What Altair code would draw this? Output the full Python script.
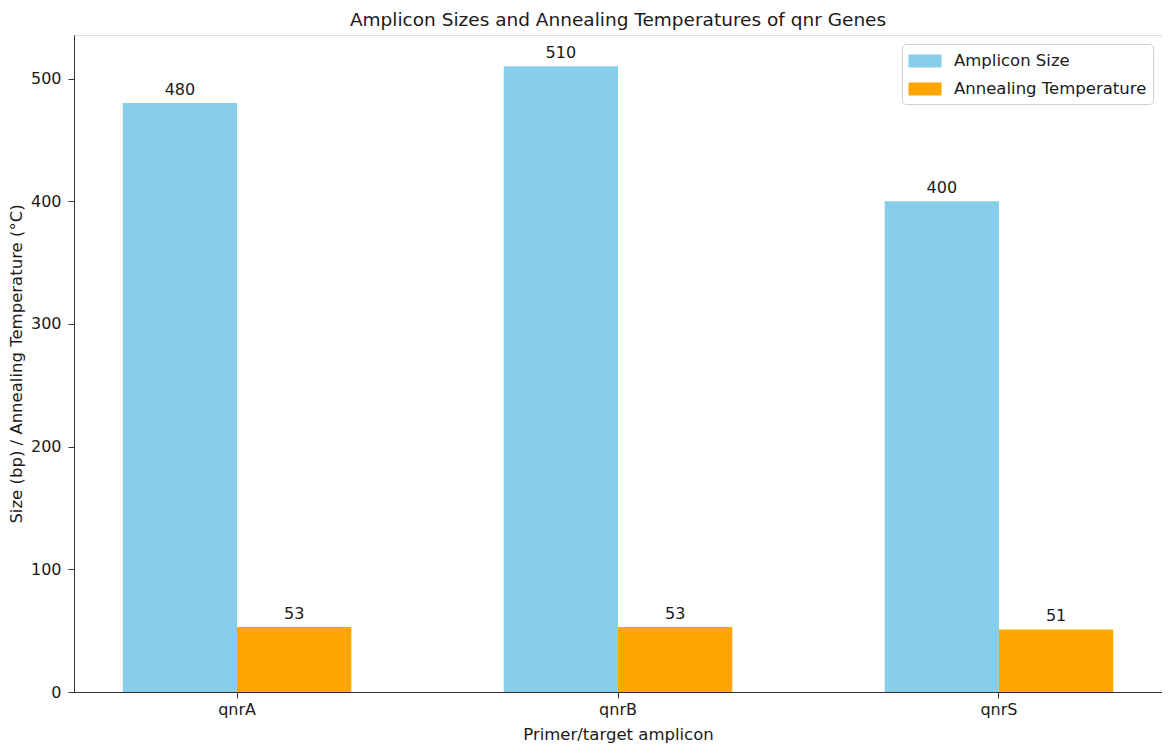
import altair as alt
import pandas as pd

genes = ["qnrA", "qnrB", "qnrS"]
amplicon_sizes = [480, 510, 400]
annealing_temps = [53, 53, 51]
series_names = ["Amplicon Size", "Annealing Temperature"]
series_colors = ["#87CEEB", "#FFA500"]

rows = []
for g, a, t in zip(genes, amplicon_sizes, annealing_temps):
    rows.append({"gene": g, "series": series_names[0], "value": a})
    rows.append({"gene": g, "series": series_names[1], "value": t})
df = pd.DataFrame(rows)

FONT = "DejaVu Sans"
INK = "#1a1a1a"

x_enc = alt.X("gene:N", sort=genes,
              scale=alt.Scale(paddingInner=0.4, paddingOuter=0.128),
              axis=alt.Axis(title="Primer/target amplicon", labelAngle=0,
                            labelFontSize=16, titleFontSize=16.5,
                            labelPadding=3, titlePadding=9,
                            tickSize=6, tickColor="#333", domainColor="#333",
                            labelColor=INK, titleColor=INK, titleFontWeight="normal"))
xoff = alt.XOffset("series:N", sort=series_names,
                   scale=alt.Scale(paddingInner=0, paddingOuter=0))
y_enc = alt.Y("value:Q",
              scale=alt.Scale(domain=[0, 535.5], nice=False, zero=True),
              axis=alt.Axis(title="Size (bp) / Annealing Temperature (°C)",
                            values=[0, 100, 200, 300, 400, 500], grid=False,
                            labelFontSize=16, titleFontSize=16.5, tickSize=6,
                            labelPadding=7, titleX=-58, titleBaseline="middle",
                            tickColor="#333", domainColor="#333",
                            labelColor=INK, titleColor=INK, titleFontWeight="normal"))

bars = alt.Chart(df).mark_bar().encode(
    x=x_enc, xOffset=xoff, y=y_enc,
    color=alt.Color("series:N", sort=series_names,
                    scale=alt.Scale(domain=series_names, range=series_colors),
                    legend=alt.Legend(title=None, orient="none", legendX=828, legendY=9,
                                      labelFontSize=16.5, labelLimit=0,
                                      symbolType="M-1.5,-0.6H1.5V0.6H-1.5Z",
                                      symbolSize=484, symbolStrokeWidth=0,
                                      symbolOffset=6,
                                      labelColor=INK,
                                      strokeColor="#d0d0d0", padding=6, cornerRadius=4,
                                      rowPadding=8, labelOffset=18,
                                      fillColor="white")),
)

labels = alt.Chart(df).mark_text(baseline="alphabetic", dy=-8, fontSize=16, font=FONT, color=INK).encode(
    x=alt.X("gene:N", sort=genes), xOffset=alt.XOffset("series:N", sort=series_names),
    y="value:Q", text=alt.Text("value:Q", format="d"),
)

chart = alt.layer(bars, labels).properties(
    width=1088, height=657,
    title=alt.Title("Amplicon Sizes and Annealing Temperatures of qnr Genes",
                    fontSize=18.5, font=FONT, fontWeight="normal", color=INK, offset=6),
    autosize=alt.AutoSizeParams(type="none"),
    padding={"left": 66, "top": 27, "right": 0, "bottom": 54},
).configure_view(stroke="#333", strokeWidth=1.2).configure(font=FONT)

chart.save("out.html", embed_options={"renderer": "svg", "actions": False})
